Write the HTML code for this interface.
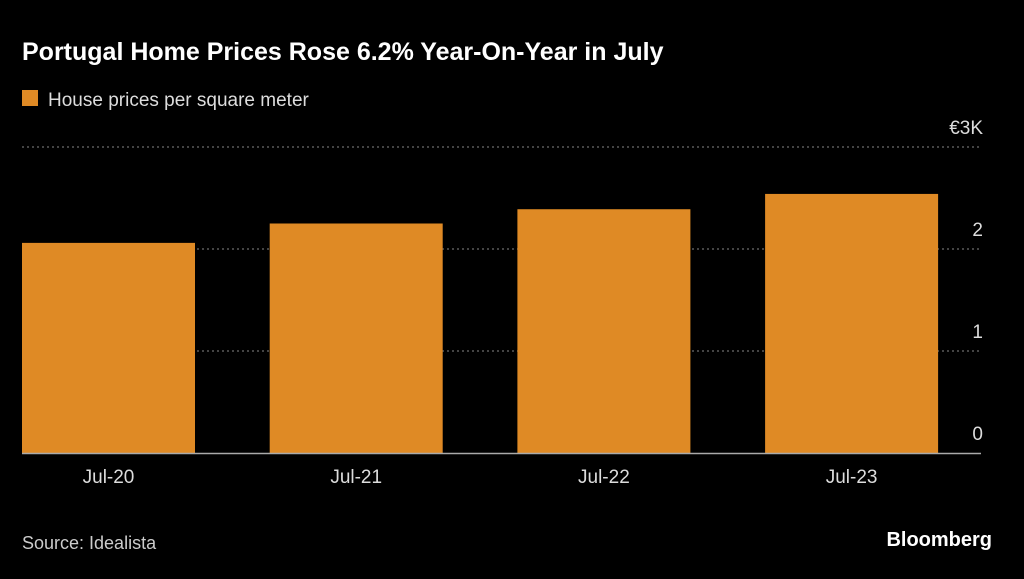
<!DOCTYPE html>
<html><head><meta charset="utf-8"><style>
body{margin:0;background:#000;width:1024px;height:574px;overflow:hidden;font-family:"Liberation Sans",sans-serif;}
</style></head><body>
<svg id="chart" width="1024" height="574" xmlns="http://www.w3.org/2000/svg">
<rect width="1024" height="574" fill="#000"/>
<text x="22" y="60" fill="#fff" font-size="25" font-weight="bold">Portugal Home Prices Rose 6.2% Year-On-Year in July</text>
<rect x="22" y="90" width="16" height="16" fill="#df8a25"/>
<text x="48" y="106" fill="#ddd" font-size="19">House prices per square meter</text>
<g id="grid"></g><g id="bars"></g><g id="labels"></g>
<text x="22" y="549" fill="#ccc" font-size="18">Source: Idealista</text>
<text x="992" y="546" fill="#fff" font-size="20" font-weight="bold" text-anchor="end">Bloomberg</text>
</svg>
<script>
const categories=["Jul-20","Jul-21","Jul-22","Jul-23"];
const values=[2.06,2.25,2.39,2.54];
const ticks=[0,1,2,3];
const tickLabels=["0","1","2","€3K"];
const NS="http://www.w3.org/2000/svg";
const x0=22,x1=981,y0=453,kPx=102;
const y=v=>y0-v*kPx;
const step=247.7, bw=173;
const bx=i=>x0+i*step;
function mk(t,a,p){const e=document.createElementNS(NS,t);for(const k in a)e.setAttribute(k,a[k]);p.appendChild(e);return e;}
const g=document.getElementById('grid'),b=document.getElementById('bars'),l=document.getElementById('labels');
ticks.forEach((t,i)=>{
 if(t>0){const ln=mk('line',{x1:x0,x2:x1,y1:y(t),y2:y(t),stroke:'#888','stroke-dasharray':'2,3','stroke-width':1},g);
 
 }
 const tx=mk('text',{x:983,y:(t===3?y(t)-13:y(t)-13),fill:'#ddd','font-size':19,'text-anchor':'end'},l);
 tx.textContent=tickLabels[i];
 
 
});
categories.forEach((c,i)=>{
 const r=mk('rect',{x:bx(i),y:y(values[i]),width:bw,height:y0-y(values[i]),fill:'#df8a25'},b);
 
 
 const t=mk('text',{x:bx(i)+bw/2,y:483,fill:'#ddd','font-size':19,'text-anchor':'middle'},l);
 t.textContent=c;
 
 
});
const base=mk('line',{x1:x0,x2:x1,y1:y0+0.5,y2:y0+0.5,stroke:'#aaa','stroke-width':1.5},l);


</script>
</body></html>
